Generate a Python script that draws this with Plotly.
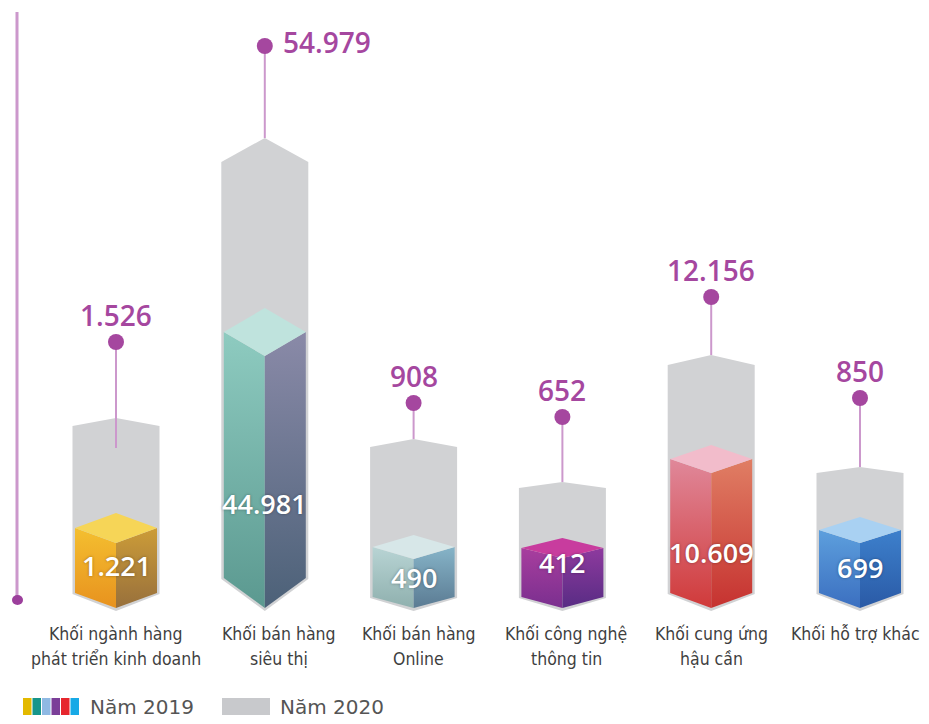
import plotly.graph_objects as go

# ---------------- data ----------------
categories = [
    ["Khối ngành hàng", "phát triển kinh doanh"],
    ["Khối bán hàng", "siêu thị"],
    ["Khối bán hàng", "Online"],
    ["Khối công nghệ", "thông tin"],
    ["Khối cung ứng", "hậu cần"],
    ["Khối hỗ trợ khác"],
]
values_2019 = [1221, 44981, 490, 412, 10609, 699]
values_2020 = [1526, 54979, 908, 652, 12156, 850]

# drawn heights on the infographic's own (non-proportional) scale
height_2019 = [95, 300, 73, 70, 163, 91]
height_2020 = [190, 470, 169, 126, 253, 141]
pin_height = [266, 562, 205, 191, 311, 210]

legend_labels = ["Năm 2019", "Năm 2020"]

# ---------------- styles ----------------
OFF = 8                         # page body margin of the html page
W, H = 929 - OFF, 724 - OFF     # figure size
PX = 148.8                      # pixels per category step
X0 = 116 - OFF                  # pixel of first category centre
BASE = 608 - OFF                # pixel of baseline
GW = 43.5 / PX                  # grey prism half width
CW = 41.0 / PX                  # cube half width
roof = [8, 24, 8, 6, 10, 6]
tilt = [15, 24, 12, 10, 14, 13]
base_tilt = [15, 30, 11, 11, 15, 15]
pin_overlap = [30, 0, 0, 0, 0, 0]
inner_label_y = [43, 105, 31, 46, 56, 41]
cat_xshift = [0, 14, 5, 4, 0, -5]

GREY = "#d1d2d4"
PIN_LINE = "#cc98cc"
PIN_DOT = "#a5479f"
cube_colors = [
    # top, left (top, bottom), right (top, bottom)
    ("#f6d557", "#f4bf30", "#e8921e", "#cc9c38", "#98703c"),
    ("#bfe3dd", "#8ecbc0", "#5b9990", "#8a8aa8", "#4c6178"),
    ("#d7e7e8", "#b8d4d4", "#8fb0ae", "#86b4c8", "#5b7b93"),
    ("#c83c9e", "#a83e9e", "#7a2f8f", "#8e3a9e", "#582c84"),
    ("#f2bccb", "#e0889a", "#d03a3a", "#e07e64", "#c63230"),
    ("#a9d1f2", "#5d9fdd", "#3b6fc0", "#3d80cc", "#2a5aa6"),
]
legend_stripes = ["#e3b900", "#16958a", "#8fb9e3", "#7b3f98", "#e6262d", "#17a9e6"]
CAT_FONT = "DejaVu Sans Condensed, Liberation Sans Narrow, Arial Narrow, sans-serif"


def fmt(v):
    return f"{v:,}".replace(",", ".")


def px_x(p):
    return (p - OFF) / W


def px_y(p):
    return 1 - (p - OFF) / H


fig = go.Figure()

for i in range(len(categories)):
    h2 = height_2020[i]
    h1 = height_2019[i]
    r = roof[i]
    t = tilt[i]
    bt = base_tilt[i]

    # grey 2020 prism
    fig.add_trace(go.Scatter(
        x=[i - GW, i - GW, i, i + GW, i + GW, i, i - GW],
        y=[bt - 1, h2 - r, h2, h2 - r, bt - 1, -3, bt - 1],
        fill="toself", fillcolor=GREY, mode="lines", line=dict(width=0),
        hoverinfo="skip"))

    top, lt, lb, rt, rb = cube_colors[i]
    # left face
    fig.add_trace(go.Scatter(
        x=[i - CW, i, i, i - CW, i - CW],
        y=[h1 - t, h1 - 2 * t, 0, bt, h1 - t],
        fill="toself", mode="lines", line=dict(width=0), fillcolor=lt,
        fillgradient=dict(type="vertical", colorscale=[[0, lb], [1, lt]]),
        hoverinfo="skip"))
    # right face
    fig.add_trace(go.Scatter(
        x=[i + CW, i, i, i + CW, i + CW],
        y=[h1 - t, h1 - 2 * t, 0, bt, h1 - t],
        fill="toself", mode="lines", line=dict(width=0), fillcolor=rt,
        fillgradient=dict(type="vertical", colorscale=[[0, rb], [1, rt]]),
        hoverinfo="skip"))
    # top face
    fig.add_trace(go.Scatter(
        x=[i - CW, i, i + CW, i, i - CW],
        y=[h1 - t, h1, h1 - t, h1 - 2 * t, h1 - t],
        fill="toself", fillcolor=top, mode="lines", line=dict(width=0),
        hoverinfo="skip"))

    # pin
    fig.add_trace(go.Scatter(
        x=[i, i], y=[h2 - pin_overlap[i], pin_height[i]], mode="lines",
        line=dict(color=PIN_LINE, width=2), hoverinfo="skip"))
    fig.add_trace(go.Scatter(
        x=[i], y=[pin_height[i]], mode="markers",
        marker=dict(color=PIN_DOT, size=16, line=dict(width=0)), hoverinfo="skip"))

    # 2020 value label
    if i == 1:
        fig.add_annotation(x=i, y=pin_height[i], text=fmt(values_2020[i]),
                           showarrow=False, xanchor="left", xshift=16, yshift=4,
                           font=dict(family="Open Sans", size=28, color=PIN_DOT, weight=600))
    else:
        fig.add_annotation(x=i, y=pin_height[i], text=fmt(values_2020[i]),
                           showarrow=False, yshift=27,
                           font=dict(family="Open Sans", size=28, color=PIN_DOT, weight=600))

    # 2019 value label
    fig.add_annotation(x=i, y=inner_label_y[i], text=fmt(values_2019[i]),
                       showarrow=False,
                       font=dict(family="Open Sans", size=27, color="white", weight=600,
                                 shadow="0px 0px 3px rgba(0,0,0,0.35)"))

    # category label (one annotation per line)
    for j, line in enumerate(categories[i]):
        fig.add_annotation(x=i, y=0, text=line, showarrow=False,
                           yanchor="middle", yshift=-(26 + 25 * j), xshift=cat_xshift[i],
                           font=dict(family=CAT_FONT, size=17.5, color="#3f3f3f"))

shapes = []
# left decorative axis line with dot
shapes.append(dict(type="line", xref="paper", yref="paper",
                   x0=px_x(17), x1=px_x(17), y0=px_y(12), y1=px_y(598),
                   line=dict(color=PIN_LINE, width=3)))
shapes.append(dict(type="circle", xref="paper", yref="paper",
                   x0=px_x(12), x1=px_x(23), y0=px_y(605), y1=px_y(595),
                   fillcolor="#9c3f9c", line=dict(width=0)))
# legend swatches
sw = (80 - 23) / len(legend_stripes)
for k, c in enumerate(legend_stripes):
    shapes.append(dict(type="rect", xref="paper", yref="paper",
                       x0=px_x(23 + k * sw), x1=px_x(23 + (k + 1) * sw - 1),
                       y0=px_y(715), y1=px_y(698), fillcolor=c, line=dict(width=0)))
shapes.append(dict(type="rect", xref="paper", yref="paper",
                   x0=px_x(222), x1=px_x(270), y0=px_y(715), y1=px_y(698),
                   fillcolor="#c8c9cc", line=dict(width=0)))

for txt, xp in zip(legend_labels, [88, 278]):
    fig.add_annotation(xref="paper", yref="paper", x=px_x(xp), y=px_y(707),
                       text=txt, showarrow=False, xanchor="left", yanchor="middle",
                       font=dict(family="DejaVu Sans", size=20, color="#555555"))

fig.update_layout(
    width=W, height=H,
    margin=dict(l=0, r=0, t=0, b=0),
    paper_bgcolor="white", plot_bgcolor="white",
    showlegend=False, hovermode=False,
    shapes=shapes,
    xaxis=dict(visible=False, range=[-X0 / PX, (W - X0) / PX], fixedrange=True),
    yaxis=dict(visible=False, range=[BASE - H, BASE], fixedrange=True),
)

fig.write_html("out.html")
